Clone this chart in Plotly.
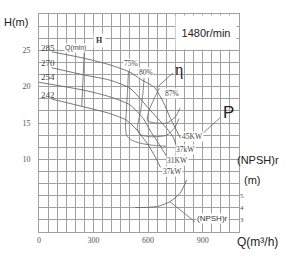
import plotly.graph_objects as go

# ---- data ----
q_285 = [70, 250, 390, 500, 560, 635, 685, 720, 760, 778]
h_285 = [24.8, 23.9, 23.0, 22.0, 21.0, 19.9, 17.8, 15.8, 13.8, 12.9]
q_270 = [70, 250, 390, 500, 555, 610, 665, 711, 737, 755]
h_270 = [22.6, 21.6, 20.9, 19.8, 18.4, 16.8, 15.3, 14.0, 13.1, 11.9]
q_254 = [0, 250, 390, 500, 574, 610, 650, 685, 705]
h_254 = [20.6, 19.5, 18.6, 17.5, 15.6, 14.0, 12.5, 11.1, 10.3]
q_242 = [70, 250, 390, 480, 540, 600, 640, 668]
h_242 = [18.3, 17.2, 16.3, 15.4, 14.0, 12.0, 10.3, 8.9]

eff75_q = [492, 487, 480, 476, 482, 505, 560, 640, 700]
eff75_h = [22.1, 19.5, 16.5, 14.3, 13.3, 12.7, 12.2, 11.9, 11.8]
eff80_q = [578, 572, 560, 545, 541, 556, 620, 700, 745, 770]
eff80_h = [21.2, 19.2, 16.8, 15.0, 14.2, 13.4, 13.1, 13.3, 14.3, 15.6]
eff87_q = [662, 632, 604, 596, 640, 704, 752, 776]
eff87_h = [19.8, 18.3, 16.6, 15.3, 15.0, 15.0, 15.9, 17.1]

qmin_q = [249, 235]
qmin_h = [24.8, 17.3]

npsh_q = [530, 600, 660, 720, 775, 812]
npsh_m = [4.0, 4.02, 4.12, 4.49, 5.18, 6.28]

eta_ptr_q = [645, 737]
eta_ptr_h = [19.8, 21.9]
p_ptr_q = [902, 995]
p_ptr_h = [13.6, 15.7]
npsh_ptr_q = [720, 858]
npsh_ptr_h = [4.17, 1.4]

x_ticks = [0, 300, 600, 900]
y_ticks = [10, 15, 20, 25]
npsh_ticks = [3, 4, 5]

diam_labels = ["285", "270", "254", "242"]
diam_label_h = [25.3, 23.2, 21.3, 18.8]
power_labels = ["45KW", "37kW", "31KW", "37kW"]
power_label_q = [843, 808, 762, 733]
power_label_h = [13.1, 11.3, 9.8, 8.3]
eff_labels = ["75%", "80%", "87%"]
eff_label_q = [506, 589, 731]
eff_label_h = [23.2, 21.9, 19.1]

CURVE = "#666666"
GRID = "#a0a0a0"
SERIF = "Liberation Serif"
SANS = "Liberation Sans"

fig = go.Figure()

def line(q, h, yaxis="y", width=0.9):
    fig.add_trace(go.Scatter(x=q, y=h, mode="lines", yaxis=yaxis,
                             line=dict(color=CURVE, width=width, shape="spline", smoothing=0.6),
                             hoverinfo="skip", showlegend=False))

for q, h in [(q_285, h_285), (q_270, h_270), (q_254, h_254), (q_242, h_242)]:
    line(q, h)
for q, h in [(eff75_q, eff75_h), (eff80_q, eff80_h), (eff87_q, eff87_h)]:
    line(q, h, width=0.8)
line(qmin_q, qmin_h, width=0.8)
line(eta_ptr_q, eta_ptr_h, width=0.8)
line(p_ptr_q, p_ptr_h, width=0.8)
line(npsh_ptr_q, npsh_ptr_h, width=0.8)
line(npsh_q, npsh_m, yaxis="y2")

ann = []
def text(x, y, s, size, family=SANS, color="#333", bg=None, xanchor="center", **kw):
    d = dict(x=x, y=y, text=s, showarrow=False, xanchor=xanchor, yanchor="middle",
             font=dict(size=size, family=family, color=color))
    if bg:
        d["bgcolor"] = bg
    d.update(kw)
    ann.append(d)

for s, h in zip(diam_labels, diam_label_h):
    text(2, h, s, 9, SERIF, "#444", xanchor="left")
for s, q, h in zip(power_labels, power_label_q, power_label_h):
    text(q, h, s, 7.5, SERIF, "#444", bg="white", borderpad=0)
for s, q, h in zip(eff_labels, eff_label_q, eff_label_h):
    text(q, h, s, 7.5, SERIF, "#444", bg="white", borderpad=0)

text(198, 25.3, "Q(min)", 7, SANS, "#444", bg="white", borderpad=0)
text(330, 26.4, "<b>H</b>", 8, SERIF, "#333", bg="white", borderpad=2)
text(921, 27.4, "1480r/min", 11, SANS, "#222", bg="white", width=60, height=33, borderpad=0)
text(770, 22.3, "η", 16, SERIF, "#222")
text(1040, 16.5, "P", 17, SANS, "#222")
text(952, 1.8, "(NPSH)r", 8, SANS, "#333", bg="white", borderpad=0)

# titles outside the plotting area (paper coordinates)
text(1.095, 0.330, "(NPSH)r", 11, SANS, "#222", xref="paper", yref="paper")
text(1.065, 0.2385, "(m)", 11, SANS, "#222", xref="paper", yref="paper")
text(1.09, -0.046, "Q(m³/h)", 12, SANS, "#222", xref="paper", yref="paper")
text(-0.115, 0.963, "H(m)", 11, SANS, "#222", xref="paper", yref="paper")

fig.update_layout(
    width=287, height=265,
    margin=dict(l=39, r=48, t=14, b=33),
    paper_bgcolor="white", plot_bgcolor="white",
    showlegend=False,
    annotations=ann,
    xaxis=dict(range=[0, 1100], tickvals=x_ticks, ticktext=[str(v) for v in x_ticks],
               showgrid=True, gridcolor=GRID, gridwidth=1,
               minor=dict(dtick=50, tick0=0, showgrid=True, gridcolor=GRID, gridwidth=1),
               showline=True, linecolor=GRID, linewidth=1, mirror=True,
               zeroline=False, ticks="",
               tickfont=dict(size=8, family=SERIF, color="#555")),
    yaxis=dict(range=[0, 30], tickvals=y_ticks, ticktext=[str(v) for v in y_ticks],
               showgrid=True, gridcolor=GRID, gridwidth=1,
               minor=dict(dtick=5/3, tick0=0, showgrid=True, gridcolor=GRID, gridwidth=1),
               showline=True, linecolor=GRID, linewidth=1, mirror=True,
               zeroline=False, ticks="", ticklabelstandoff=6,
               tickfont=dict(size=8, family=SERIF, color="#555")),
    yaxis2=dict(range=[1.983, 20], overlaying="y", side="right",
                tickvals=npsh_ticks, ticktext=[str(v) for v in npsh_ticks],
                showgrid=False, zeroline=False, showline=False, ticks="",
                tickfont=dict(size=7, family=SERIF, color="#555")),
)

fig.write_html("out.html")
